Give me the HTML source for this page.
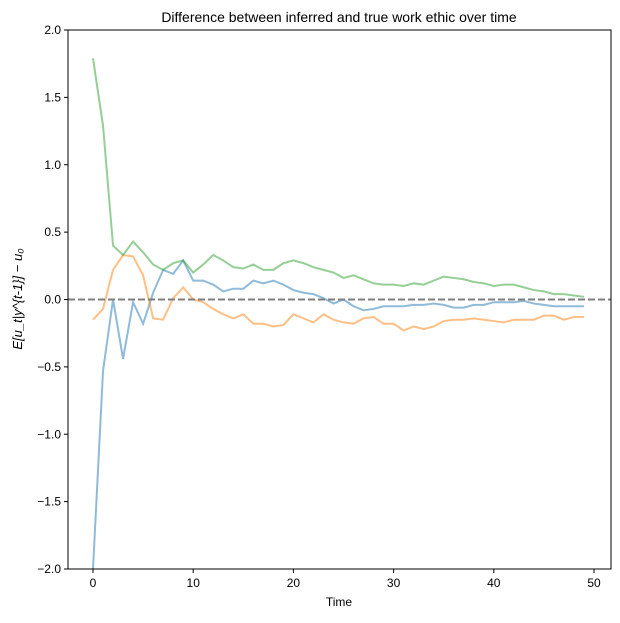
<!DOCTYPE html>
<html><head><meta charset="utf-8"><style>
body{margin:0;background:#fff;}
svg text{font-family:"Liberation Sans",sans-serif;fill:#000;}
</style></head><body>
<svg width="620" height="618" id="c" xmlns="http://www.w3.org/2000/svg">
<text x="339" y="22" font-size="14" text-anchor="middle">Difference between inferred and true work ethic over time</text>
<text x="339" y="606" font-size="12" text-anchor="middle">Time</text>
<text transform="translate(22,299) rotate(-90)" font-size="13" text-anchor="middle" font-family="Liberation Serif" font-style="italic">E[u_t|y^{t-1}] − u₀</text>
<g id="plot"></g>
</svg>
<script>
const green=[1.79,1.29,0.40,0.33,0.43,0.35,0.26,0.22,0.27,0.29,0.20,0.26,0.33,0.29,0.24,0.23,0.26,0.22,0.22,0.27,0.29,0.27,0.24,0.22,0.20,0.16,0.18,0.15,0.12,0.11,0.11,0.10,0.12,0.11,0.14,0.17,0.16,0.15,0.13,0.12,0.10,0.11,0.11,0.09,0.07,0.06,0.04,0.04,0.03,0.02];
const blue=[-2.0,-0.53,0.0,-0.44,-0.02,-0.18,0.05,0.22,0.19,0.29,0.14,0.14,0.11,0.06,0.08,0.08,0.14,0.12,0.14,0.11,0.07,0.05,0.04,0.01,-0.03,0.0,-0.05,-0.08,-0.07,-0.05,-0.05,-0.05,-0.04,-0.04,-0.03,-0.04,-0.06,-0.06,-0.04,-0.04,-0.02,-0.02,-0.02,-0.01,-0.03,-0.04,-0.05,-0.05,-0.05,-0.05];
const orange=[-0.15,-0.07,0.22,0.33,0.32,0.18,-0.14,-0.15,0.01,0.09,0.0,-0.02,-0.07,-0.11,-0.14,-0.11,-0.18,-0.18,-0.20,-0.19,-0.11,-0.14,-0.17,-0.11,-0.15,-0.17,-0.18,-0.14,-0.13,-0.18,-0.18,-0.23,-0.20,-0.22,-0.20,-0.16,-0.15,-0.15,-0.14,-0.15,-0.16,-0.17,-0.15,-0.15,-0.15,-0.12,-0.12,-0.15,-0.13,-0.13];
const xTicks=[0,10,20,30,40,50];
const yTicks=[-2.0,-1.5,-1.0,-0.5,0.0,0.5,1.0,1.5,2.0];
const NS="http://www.w3.org/2000/svg";
const L=68,R=611,T=30,B=569;
const X=v=>93+v*(594-93)/50;
const Y=v=>B-(v+2)*(B-T)/4;
const g=document.getElementById('plot');
function mk(t,a){const e=document.createElementNS(NS,t);for(const k in a)e.setAttribute(k,a[k]);g.appendChild(e);return e;}
function series(d,col,name){
  const p=mk('polyline',{points:d.map((v,i)=>X(i)+','+Y(v)).join(' '),fill:'none',stroke:col,'stroke-width':2,'stroke-opacity':0.5});
  
  
}
series(blue,'#1f77b4','series-blue');
series(orange,'#ff7f0e','series-orange');
series(green,'#2ca02c','series-green');
const z=mk('line',{x1:L,x2:R,y1:Y(0),y2:Y(0),stroke:'#7f7f7f','stroke-width':2,'stroke-dasharray':'7,3'});


const fr=mk('rect',{x:L,y:T,width:R-L,height:B-T,fill:'none',stroke:'#000','stroke-width':1});


xTicks.forEach(v=>{
  mk('line',{x1:X(v),x2:X(v),y1:B,y2:B+4,stroke:'#000'});
  const t=mk('text',{x:X(v),y:B+18,'font-size':12,'text-anchor':'middle'});t.textContent=v;
  
  
});
yTicks.forEach(v=>{
  mk('line',{x1:L-4,x2:L,y1:Y(v),y2:Y(v),stroke:'#000'});
  const t=mk('text',{x:L-7,y:Y(v)+4,'font-size':12,'text-anchor':'end'});t.textContent=(v<0?'−':'')+Math.abs(v).toFixed(1);
  
  
});
</script>
</body></html>
